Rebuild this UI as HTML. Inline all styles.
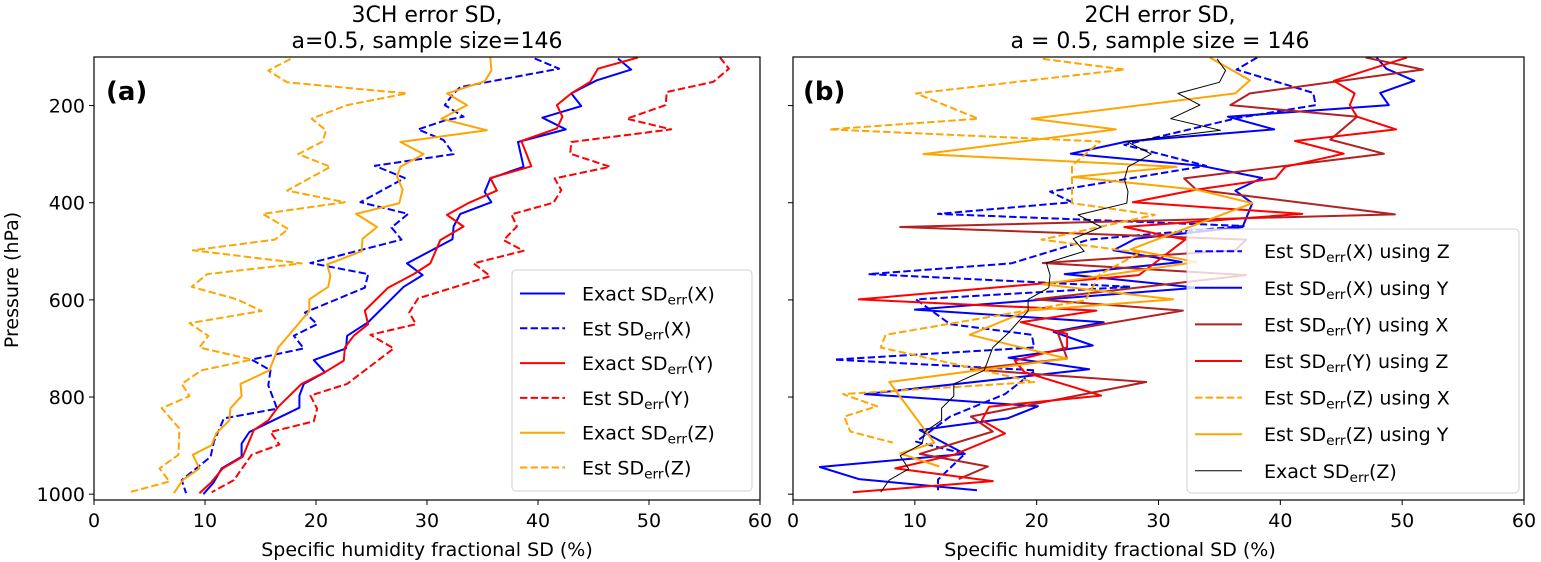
<!DOCTYPE html>
<html><head><meta charset="utf-8"><style>
body{margin:0;background:#fff;width:1541px;height:562px;overflow:hidden}
svg{display:block;font-family:"DejaVu Sans","Liberation Sans",sans-serif}
</style></head><body>
<svg id="chart" width="1541" height="562" viewBox="0 0 1541 562">
<defs>
<clipPath id="clipA"><rect x="94" y="57" width="666" height="443"/></clipPath>
<clipPath id="clipB"><rect x="793" y="57" width="731" height="443"/></clipPath>
</defs>
<g id="root"></g>
</svg>
<script>
const pTicks=[200,400,600,800,1000];
const xTicks=[0,10,20,30,40,50,60];
// Panel (a)
const aExactXP=[103,126,148,175,201,225,249,275,326,350,378,399,423,449,475,525,549,573,646,674,700,724,749,773,797,822,872,896,923,947,977,1000];
const aExactXV=[47.2,48.4,45.3,43.0,43.9,40.4,42.5,38.2,38.7,35.7,35.2,35.8,33.0,32.4,32.3,28.2,29.6,27.9,24.7,22.8,22.7,19.8,20.8,18.9,18.5,18.5,14.0,13.3,13.3,11.5,10.75,9.85];
const aEstXP=[103,124,162,175,199,223,230,249,271,300,324,349,399,423,451,476,524,547,575,626,650,674,700,723,745,776,824,844,892,923,971,998];
const aEstXV=[39.7,41.9,33.0,32.4,31.6,33.3,31.7,29.2,31.5,32.4,25.3,28.0,24.0,28.3,26.8,27.7,19.5,24.7,24.4,19.0,20.1,18.0,18.9,14.2,15.9,15.7,16.5,11.7,10.8,10.5,7.9,8.3];
const aExactYP=[101,124,151,175,199,223,247,273,325,349,375,401,425,449,477,525,547,575,622,650,674,698,725,749,773,820,848,868,923,947,977,998];
const aExactYV=[49.0,45.4,44.7,43.0,41.7,42.2,41.7,38.5,39.4,35.7,36.3,33.7,31.8,33.3,31.2,30.3,28.8,26.5,24.4,24.7,23.4,22.6,22.5,20.8,18.7,16.6,15.7,14.4,13.4,11.6,10.5,9.5];
const aEstYP=[101,124,151,172,199,227,249,275,299,326,350,374,400,424,449,477,499,525,551,597,626,650,672,700,773,797,824,850,872,898,919,971,996];
const aEstYV=[56.4,57.2,55.8,51.6,51.5,48.0,52.0,43.0,42.9,46.5,41.5,42.1,41.4,37.6,38.1,36.9,38.7,34.2,35.7,29.2,28.4,29.0,24.9,27.0,22.8,19.5,20.1,19.8,15.9,16.7,14.2,12.6,10.6];
const aExactZP=[101,128,150,175,199,227,251,275,300,326,346,373,401,423,450,474,500,527,551,573,599,623,698,745,773,798,823,848,875,899,919,947,971,998];
const aExactZV=[35.7,35.8,35.2,31.8,33.6,31.3,35.4,27.6,29.7,27.6,27.3,27.8,27.5,23.6,25.5,24.2,24.1,21.0,21.3,21.1,19.4,19.4,16.6,15.8,13.2,13.3,12.3,12.2,11.0,10.6,8.9,9.5,8.0,7.2];
const aEstZP=[104,128,152,175,199,227,251,274,300,326,375,399,423,454,476,498,525,547,573,599,623,648,674,698,723,745,773,798,823,865,919,947,974,996];
const aEstZV=[17.7,15.7,17.4,28.2,22.8,19.6,20.9,20.6,18.4,21.3,17.4,22.6,15.2,17.5,16.3,8.9,18.7,10.2,8.8,12.9,15.1,8.6,10.3,9.5,14.2,9.7,7.9,8.6,6.1,7.7,7.6,5.9,6.8,3.2];
// Panel (b)
const bEstXZP=[101,126,174,199,226,281,324,377,399,423,448,476,525,547,573,599,650,672,698,723,745,794,840,892,917,970,992];
const bEstXZV=[38.1,36.4,42.7,42.9,36.4,27.2,33.9,21.1,22.9,11.9,37.0,24.3,17.9,6.2,27.7,10.1,12.9,19.6,19.8,3.4,19.9,17.4,12.9,10.1,14.1,11.9,11.9];
const bEstXYP=[101,124,149,174,199,223,249,274,299,324,349,375,401,450,474,498,522,547,575,620,646,666,694,719,743,794,819,844,868,917,944,969,992];
const bEstXYV=[47.9,48.7,51.0,48.2,48.9,35.7,39.5,27.4,22.8,33.5,38.5,36.3,37.7,36.9,28.1,26.3,31.9,22.3,33.2,10.0,25.5,21.4,24.6,17.7,24.3,5.9,20.1,17.6,10.4,14.1,2.2,5.4,15.1];
const bEstYXP=[101,126,175,199,223,270,299,350,373,424,450,476,498,524,549,599,622,666,721,743,769,840,871,917,943,969];
const bEstYXV=[47.0,51.7,37.5,35.9,46.3,44.1,48.5,32.1,33.1,49.4,8.8,37.2,36.3,20.5,37.2,19.9,32.0,21.7,22.5,14.6,29.0,14.6,16.4,10.4,16.0,13.6];
const bEstYZP=[101,149,175,199,223,249,273,299,326,350,373,399,423,450,476,549,599,622,646,670,698,725,749,797,820,848,875,919,947,973,996];
const bEstYZV=[50.4,44.4,46.1,45.7,46.3,49.5,41.2,45.2,40.4,39.6,33.1,27.9,41.8,27.2,32.2,28.4,5.4,24.9,18.7,22.5,22.5,18.2,19.0,25.3,16.1,15.5,17.4,13.2,8.4,16.4,4.9];
const bEstZXP=[104,126,175,227,249,274,324,401,425,476,503,547,601,672,698,769,794,819,840,871,894];
const bEstZXV=[20.5,27.2,10.1,15.2,3.0,25.2,22.9,22.9,29.7,20.4,28.5,25.2,24.0,7.6,7.2,19.8,4.1,6.9,4.2,4.7,8.2];
const bEstZYP=[101,148,175,227,249,300,326,347,373,401,496,522,568,599,622,672,721,769,894,916,943];
const bEstZYV=[34.2,37.5,36.3,19.6,26.5,10.7,31.5,23.0,33.1,37.7,27.7,33.1,20.5,31.2,19.3,14.5,22.5,7.9,11.6,8.8,12.0];
const bExactZP=[104,128,152,175,199,227,251,274,300,326,352,377,401,425,450,474,500,524,549,575,599,623,670,698,745,773,798,823,848,872,896,921,948,971,996];
const bExactZV=[34.8,35.5,35.0,31.6,33.4,31.0,35.1,27.4,29.4,27.5,27.2,27.5,27.4,23.4,25.3,23.0,23.9,20.8,21.1,21.0,19.3,19.3,17.6,16.4,15.7,13.2,13.2,12.2,12.2,10.8,10.6,8.8,9.5,7.9,7.2];

const NS='http://www.w3.org/2000/svg';
const root=document.getElementById('root');
function mk(tag,attrs,parent){const e=document.createElementNS(NS,tag);for(const k in attrs)e.setAttribute(k,attrs[k]);(parent||root).appendChild(e);return e;}
const yTop=57,yBot=500,pTop=100,pBot=1012;
function yOf(p){return yTop+(p-pTop)*(yBot-yTop)/(pBot-pTop);}
const panels={a:{x0:94,x1:760,clip:'clipA'},b:{x0:793,x1:1524,clip:'clipB'}};
function xOf(pn,v){const P=panels[pn];return P.x0+v*(P.x1-P.x0)/60;}
const DASH='7.4,3.2';

function axes(pn,name){
  const P=panels[pn];
  const g=mk('g',{});
  
  
  xTicks.forEach(t=>{
    const x=xOf(pn,t);
    const tk=mk('line',{x1:x,x2:x,y1:yBot,y2:yBot+5,stroke:'#000','stroke-width':1},g);
    
    
    const tl=mk('text',{x:x,y:yBot+27,'font-size':19,'text-anchor':'middle',fill:'#000'},g);
    tl.textContent=t;
    
    
  });
  pTicks.forEach(t=>{
    const y=yOf(t);
    const tk=mk('line',{x1:P.x0-5,x2:P.x0,y1:y,y2:y,stroke:'#000','stroke-width':1},g);
    
    
    if(pn==='a'){
      const tl=mk('text',{x:P.x0-9,y:y+7,'font-size':19,'text-anchor':'end',fill:'#000'},g);
      tl.textContent=t;
      
      
    }
  });
}
function series(pn,ps,vs,color,dash,lw,name){
  const pts=ps.map((p,i)=>xOf(pn,vs[i]).toFixed(1)+','+yOf(p).toFixed(1)).join(' ');
  const a={points:pts,fill:'none',stroke:color,'stroke-width':lw,'stroke-linejoin':'round','clip-path':'url(#'+panels[pn].clip+')'};
  if(dash)a['stroke-dasharray']=dash;
  const l=mk('polyline',a);
  
  
}
function frame(pn,name){
  const P=panels[pn];
  const r=mk('rect',{x:P.x0,y:yTop,width:P.x1-P.x0,height:yBot-yTop,fill:'none',stroke:'#000','stroke-width':1.2});
  
  
}
function legend(name,x,y,w,h,entries,sp,fs,lx0,lx1,tx){
  const g=mk('g',{});
  
  
  mk('rect',{x:x,y:y,width:w,height:h,rx:4,fill:'#fff','fill-opacity':0.8,stroke:'#d0d0d0','stroke-width':1},g);
  entries.forEach((e,i)=>{
    const yy=y+sp*(i+0.5)+ (h-sp*entries.length)/2;
    const a={x1:lx0,x2:lx1,y1:yy,y2:yy,stroke:e.c,'stroke-width':e.w};
    if(e.d)a['stroke-dasharray']=e.d;
    const ln=mk('line',a,g);
    
    
    const t=mk('text',{x:tx,y:yy+7,'font-size':fs,fill:'#000'},g);
    
    
    const s1=mk('tspan',{},t);s1.textContent=e.a+' SD';
    const s2=mk('tspan',{'font-size':fs*0.72,dy:4},t);s2.textContent='err';
    const s3=mk('tspan',{dy:-4},t);s3.textContent=e.b;
  });
}

axes('a','panel-a');axes('b','panel-b');
series('a',aExactXP,aExactXV,'#0000ff',null,2,'exact-x-line');
series('a',aEstXP,aEstXV,'#0000ff',DASH,2,'est-x-line');
series('a',aExactYP,aExactYV,'#ff0000',null,2,'exact-y-line');
series('a',aEstYP,aEstYV,'#ff0000',DASH,2,'est-y-line');
series('a',aExactZP,aExactZV,'#ffa500',null,2,'exact-z-line');
series('a',aEstZP,aEstZV,'#ffa500',DASH,2,'est-z-line');
series('b',bEstXZP,bEstXZV,'#0000ff',DASH,2,'est-x-using-z-line');
series('b',bEstXYP,bEstXYV,'#0000ff',null,2,'est-x-using-y-line');
series('b',bEstYXP,bEstYXV,'#b22222',null,2,'est-y-using-x-line');
series('b',bEstYZP,bEstYZV,'#ff0000',null,2,'est-y-using-z-line');
series('b',bEstZXP,bEstZXV,'#ffa500',DASH,2,'est-z-using-x-line');
series('b',bEstZYP,bEstZYV,'#ffa500',null,2,'est-z-using-y-line');
series('b',bExactZP,bExactZV,'#000000',null,1,'exact-z-line-b');
frame('a','panel-a-frame');frame('b','panel-b-frame');

legend('legend-a',512,270,240,221,[
 {a:'Exact',b:'(X)',c:'#0000ff',w:2},{a:'Est',b:'(X)',c:'#0000ff',w:2,d:DASH},
 {a:'Exact',b:'(Y)',c:'#ff0000',w:2},{a:'Est',b:'(Y)',c:'#ff0000',w:2,d:DASH},
 {a:'Exact',b:'(Z)',c:'#ffa500',w:2},{a:'Est',b:'(Z)',c:'#ffa500',w:2,d:DASH}],34.8,19,520,565,582);
legend('legend-b',1187,229,332,264,[
 {a:'Est',b:'(X) using Z',c:'#0000ff',w:2,d:DASH},{a:'Est',b:'(X) using Y',c:'#0000ff',w:2},
 {a:'Est',b:'(Y) using X',c:'#b22222',w:2},{a:'Est',b:'(Y) using Z',c:'#ff0000',w:2},
 {a:'Est',b:'(Z) using X',c:'#ffa500',w:2,d:DASH},{a:'Est',b:'(Z) using Y',c:'#ffa500',w:2},
 {a:'Exact',b:'(Z)',c:'#000000',w:1}],36.6,19,1195,1242,1264);
</script>
<div style="position:absolute;left:0;top:0">
<svg width="1541" height="562" style="position:absolute;left:0;top:0">
<text x="427" y="22" font-size="22" text-anchor="middle" font-family="DejaVu Sans, Liberation Sans, sans-serif">3CH error SD,</text>
<text x="427" y="48" font-size="22" text-anchor="middle" font-family="DejaVu Sans, Liberation Sans, sans-serif">a=0.5, sample size=146</text>
<text x="1160" y="22" font-size="22" text-anchor="middle" font-family="DejaVu Sans, Liberation Sans, sans-serif">2CH error SD,</text>
<text x="1160" y="48" font-size="22" text-anchor="middle" font-family="DejaVu Sans, Liberation Sans, sans-serif">a = 0.5, sample size = 146</text>
<text x="106" y="100" font-size="26" font-weight="bold" font-family="DejaVu Sans, Liberation Sans, sans-serif">(a)</text>
<text x="803" y="100" font-size="26" font-weight="bold" font-family="DejaVu Sans, Liberation Sans, sans-serif">(b)</text>
<text x="0" y="0" font-size="19" text-anchor="middle" transform="translate(18,280) rotate(-90)" font-family="DejaVu Sans, Liberation Sans, sans-serif">Pressure (hPa)</text>
<text x="427" y="556" font-size="19" text-anchor="middle" font-family="DejaVu Sans, Liberation Sans, sans-serif">Specific humidity fractional SD (%)</text>
<text x="1110" y="556" font-size="19" text-anchor="middle" font-family="DejaVu Sans, Liberation Sans, sans-serif">Specific humidity fractional SD (%)</text>
</svg></div>
</body></html>
